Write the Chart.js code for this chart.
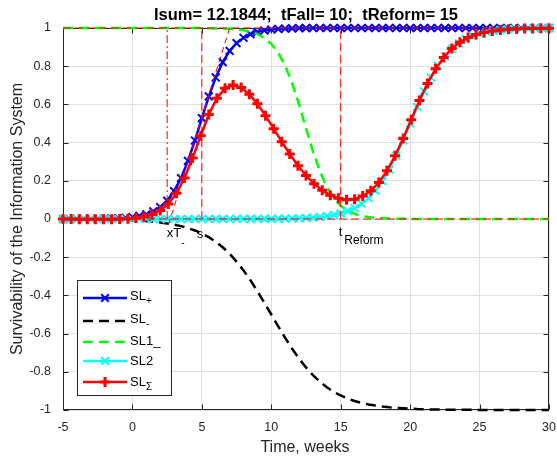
<!DOCTYPE html>
<html>
<head>
<meta charset="utf-8">
<script src="https://cdn.jsdelivr.net/npm/chart.js@4/dist/chart.umd.min.js"></script>
<style>
  html, body { margin: 0; padding: 0; background: #fff; }
  canvas { display: block; }
</style>
</head>
<body>
<canvas id="survChart" width="557" height="459"></canvas>
<script>
// time grid of the SL+, SL-, SL1_ and SL2 curves (weeks)
const weeks = [
  -5, -4.5, -4, -3.5, -3, -2.5, -2, -1.5, -1, -0.5,
  0, 0.5, 1, 1.5, 2, 2.5, 3, 3.5, 4, 4.5,
  5, 5.5, 6, 6.5, 7, 7.5, 8, 8.5, 9, 9.5,
  10, 10.5, 11, 11.5, 12, 12.5, 13, 13.5, 14, 14.5,
  15, 15.5, 16, 16.5, 17, 17.5, 18, 18.5, 19, 19.5,
  20, 20.5, 21, 21.5, 22, 22.5, 23, 23.5, 24, 24.5,
  25, 25.5, 26, 26.5, 27, 27.5, 28, 28.5, 29, 29.5,
  30
];
const slPlus = [
  0.0001, 0.0001, 0.0002, 0.0004, 0.0006, 0.001, 0.0016, 0.0025, 0.004, 0.0063,
  0.010, 0.016, 0.025, 0.040, 0.062, 0.096, 0.146, 0.214, 0.304, 0.411,
  0.528, 0.642, 0.741, 0.821, 0.880, 0.921, 0.949, 0.968, 0.980, 0.987,
  0.992, 0.995, 0.997, 0.998, 0.999, 0.999, 1, 1, 1, 1,
  1, 1, 1, 1, 1, 1, 1, 1, 1, 1,
  1, 1, 1, 1, 1, 1, 1, 1, 1, 1,
  1, 1, 1, 1, 1, 1, 1, 1, 1, 1,
  1
];
const slMinus = [
  -0.0006, -0.0007, -0.0009, -0.0012, -0.0015, -0.0019, -0.0025, -0.0032, -0.0041, -0.0052,
  -0.0067, -0.0086, -0.011, -0.0141, -0.018, -0.023, -0.0293, -0.0374, -0.0474, -0.060,
  -0.076, -0.095, -0.119, -0.148, -0.182, -0.223, -0.269, -0.321, -0.378, -0.438,
  -0.5, -0.562, -0.622, -0.679, -0.731, -0.777, -0.818, -0.852, -0.881, -0.905,
  -0.924, -0.940, -0.953, -0.963, -0.971, -0.977, -0.982, -0.986, -0.989, -0.991,
  -0.993, -0.995, -0.996, -0.997, -0.9975, -0.998, -0.9985, -0.9988, -0.9991, -0.9993,
  -0.9994, -0.9996, -0.9997, -0.9997, -0.9998, -0.9998, -0.9999, -0.9999, -0.9999, -0.9999,
  -1
];
const sl1 = [
  1, 1, 1, 1, 1, 1, 1, 1, 1, 1,
  1, 1, 1, 1, 1, 1, 1, 0.9999, 0.9998, 0.9996,
  0.9994, 0.999, 0.998, 0.997, 0.996, 0.993, 0.988, 0.980, 0.968, 0.948,
  0.917, 0.870, 0.802, 0.711, 0.599, 0.475, 0.354, 0.250, 0.168, 0.109,
  0.069, 0.043, 0.027, 0.016, 0.010, 0.006, 0.004, 0.002, 0.001, 0.001,
  0.0005, 0.0003, 0.0002, 0.0001, 0, 0, 0, 0, 0, 0,
  0, 0, 0, 0, 0, 0, 0, 0, 0, 0,
  0
];
const sl2 = [
  0, 0, 0, 0, 0, 0, 0, 0, 0, 0,
  0, 0, 0, 0, 0, 0, 0, 0, 0, 0,
  0, 0, 0.0001, 0.0001, 0.0001, 0.0002, 0.0002, 0.0003, 0.0005, 0.0006,
  0.0009, 0.0013, 0.0018, 0.0026, 0.0037, 0.0052, 0.0074, 0.0105, 0.0148, 0.0208,
  0.0293, 0.0411, 0.0573, 0.0794, 0.109, 0.148, 0.198, 0.259, 0.332, 0.413,
  0.5, 0.587, 0.668, 0.741, 0.802, 0.852, 0.891, 0.920, 0.943, 0.959,
  0.971, 0.979, 0.985, 0.990, 0.993, 0.995, 0.996, 0.997, 0.998, 0.999,
  0.999
];
// SL-sigma is sampled on its own grid
const weeksSum = [
  -5, -4.42, -3.83, -3.25, -2.67, -2.08, -1.5, -0.92, -0.33, 0.25,
  0.83, 1.42, 2, 2.58, 3.17, 3.75, 4.33, 4.92, 5.5, 6.08,
  6.67, 7.25, 7.83, 8.42, 9, 9.58, 10.17, 10.75, 11.33, 11.92,
  12.5, 13.08, 13.67, 14.25, 14.83, 15.42, 16, 16.58, 17.17, 17.75,
  18.33, 18.92, 19.5, 20.08, 20.67, 21.25, 21.83, 22.42, 23, 23.58,
  24.17, 24.75, 25.33, 25.92, 26.5, 27.08, 27.67, 28.25, 28.83, 29.42,
  30
];
const slSum = [
  -0.0005, -0.0006, -0.0007, -0.0008, -0.001, -0.001, -0.0007, 0.0001, 0.0017, 0.0051,
  0.0116, 0.0235, 0.0445, 0.079, 0.135, 0.215, 0.319, 0.436, 0.547, 0.632,
  0.684, 0.701, 0.688, 0.653, 0.603, 0.541, 0.473, 0.405, 0.340, 0.279,
  0.228, 0.185, 0.150, 0.125, 0.108, 0.101, 0.104, 0.120, 0.148, 0.191,
  0.252, 0.331, 0.422, 0.520, 0.620, 0.710, 0.786, 0.846, 0.893, 0.926,
  0.950, 0.966, 0.977, 0.984, 0.990, 0.993, 0.995, 0.997, 0.998, 0.999,
  0.999
];

// guide lines
const markT = [2.5, 5, 15];        // xT-, s, tReform
const levelY = [0, 1];
const tangentT = [2.6, 7.0];
const tangentV = [-0.03, 1.0];

const titleText = 'Isum= 12.1844;  tFall= 10;  tReform= 15';
const xTitle = 'Time, weeks';
const yTitle = 'Survivability of the Information System';
const legendRows = [
  { main: 'SL', sub: '+', color: '#0000ff', dash: [], mark: 'x' },
  { main: 'SL', sub: '-', color: '#000000', dash: [10, 6], mark: null },
  { main: 'SL1_', sub: '', color: '#00ff00', dash: [10, 6], mark: null },
  { main: 'SL2', sub: '', color: '#00ffff', dash: [], mark: 'x' },
  { main: 'SL', sub: '\u03A3', color: '#ff0000', dash: [], mark: '+' }
];

const FONT = '"Liberation Sans", Arial, sans-serif';
Chart.defaults.font.family = FONT;
Chart.defaults.color = '#262626';

function pts(xs, ys) {
  return xs.map((x, i) => ({ x: x, y: ys[i] }));
}

function guide(data, dash) {
  return {
    data: data, borderColor: '#ff0000', borderWidth: 1, borderDash: dash,
    pointRadius: 0, fill: false, order: 0, clip: false
  };
}

const guides = [
  guide([{ x: -5, y: levelY[0] }, { x: 30, y: levelY[0] }], [8, 4]),
  guide([{ x: -5, y: levelY[1] }, { x: 30, y: levelY[1] }], [8, 4]),
  guide([{ x: markT[0], y: levelY[0] }, { x: markT[0], y: levelY[1] }], [8, 3, 2, 3]),
  guide([{ x: markT[1], y: levelY[0] }, { x: markT[1], y: levelY[1] }], [8, 4]),
  guide([{ x: markT[2], y: levelY[0] }, { x: markT[2], y: levelY[1] }], [8, 4]),
  guide(pts(tangentT, tangentV), [6, 4])
];

function drawMark(ctx, kind, x, y, color) {
  ctx.save();
  ctx.strokeStyle = color;
  ctx.beginPath();
  if (kind === 'x') {
    ctx.lineWidth = 2;
    ctx.moveTo(x - 3.8, y - 3.8); ctx.lineTo(x + 3.8, y + 3.8);
    ctx.moveTo(x - 3.8, y + 3.8); ctx.lineTo(x + 3.8, y - 3.8);
  } else {
    ctx.lineWidth = 3;
    ctx.moveTo(x - 5, y); ctx.lineTo(x + 5, y);
    ctx.moveTo(x, y - 5); ctx.lineTo(x, y + 5);
  }
  ctx.stroke();
  ctx.restore();
}

const decor = {
  id: 'decor',
  beforeDatasetsDraw(chart) {
    const { ctx, chartArea: a, scales } = chart;
    const l = Math.round(a.left) + 0.5, r = Math.round(a.right) - 0.5;
    const t = Math.round(a.top) + 0.5, b = Math.round(a.bottom) - 0.5;
    ctx.save();
    ctx.strokeStyle = '#262626';
    ctx.lineWidth = 1;
    ctx.strokeRect(l, t, r - l, b - t);
    ctx.beginPath();
    scales.x.ticks.forEach(tk => {
      const p = Math.round(scales.x.getPixelForValue(tk.value)) + 0.5;
      ctx.moveTo(p, b); ctx.lineTo(p, b - 5);
      ctx.moveTo(p, t); ctx.lineTo(p, t + 5);
    });
    scales.y.ticks.forEach(tk => {
      const p = Math.round(scales.y.getPixelForValue(tk.value)) + 0.5;
      ctx.moveTo(l, p); ctx.lineTo(l + 5, p);
      ctx.moveTo(r, p); ctx.lineTo(r - 5, p);
    });
    ctx.stroke();
    ctx.restore();
  },
  afterDraw(chart) {
    const { ctx, chartArea: a, scales } = chart;
    const px = v => scales.x.getPixelForValue(v);
    const y0 = scales.y.getPixelForValue(0);
    ctx.save();

    // title
    ctx.fillStyle = '#000';
    ctx.font = 'bold 16.5px ' + FONT;
    ctx.textAlign = 'center';
    ctx.textBaseline = 'alphabetic';
    ctx.fillText(titleText, (a.left + a.right) / 2, 19.5);

    // axis titles
    ctx.fillStyle = '#262626';
    ctx.font = '16px ' + FONT;
    ctx.fillText(xTitle, 305, 452);
    ctx.save();
    ctx.translate(21.5, (a.top + a.bottom) / 2);
    ctx.rotate(-Math.PI / 2);
    ctx.fillText(yTitle, 0, 0);
    ctx.restore();

    // point labels
    ctx.fillStyle = '#000';
    ctx.textAlign = 'left';
    ctx.font = '13px ' + FONT;
    ctx.fillText('xT', px(markT[0]) - 0.5, y0 + 18);
    ctx.fillText('s', px(markT[1]) - 5, y0 + 19);
    ctx.fillText('t', px(markT[2]) - 2, y0 + 17);
    ctx.font = '10px ' + FONT;
    ctx.fillText('-', px(markT[0]) + 14, y0 + 27);
    ctx.font = '12px ' + FONT;
    ctx.fillText('Reform', px(markT[2]) + 3.5, y0 + 24.5);

    // legend
    const lx = 77.5, ly = 280.5, lw = 94, lh = 115;
    ctx.fillStyle = '#fff';
    ctx.fillRect(lx, ly, lw, lh);
    ctx.strokeStyle = '#262626';
    ctx.lineWidth = 1;
    ctx.strokeRect(lx, ly, lw, lh);
    const lineY = [298, 321, 342, 361, 382];
    const baseY = [300, 323, 345, 365, 386];
    legendRows.forEach((row, i) => {
      ctx.save();
      ctx.strokeStyle = row.color;
      ctx.lineWidth = 2.5;
      ctx.setLineDash(row.dash);
      ctx.beginPath();
      ctx.moveTo(83, lineY[i]);
      ctx.lineTo(127, lineY[i]);
      ctx.stroke();
      ctx.restore();
      if (row.mark) drawMark(ctx, row.mark, 105, lineY[i], row.color);
      ctx.fillStyle = '#000';
      ctx.font = '13px ' + FONT;
      ctx.fillText(row.main, 130, baseY[i]);
      if (row.sub) {
        const w = ctx.measureText(row.main).width;
        ctx.font = '10px ' + FONT;
        ctx.fillText(row.sub, 130 + w, baseY[i] + 4);
      }
    });
    ctx.restore();
  }
};

new Chart(document.getElementById('survChart'), {
  type: 'line',
  data: {
    datasets: guides.concat([
      {
        label: 'SL\u03A3', data: pts(weeksSum, slSum), order: 1,
        borderColor: '#ff0000', borderWidth: 2.5,
        pointStyle: 'cross', pointRadius: 5, pointBorderWidth: 3,
        pointBorderColor: '#ff0000', pointBackgroundColor: '#ff0000', clip: false
      },
      {
        label: 'SL2', data: pts(weeks, sl2), order: 2,
        borderColor: '#00ffff', borderWidth: 2,
        pointStyle: 'crossRot', pointRadius: 5.5, pointBorderWidth: 2,
        pointBorderColor: '#00ffff', pointBackgroundColor: '#00ffff', clip: false
      },
      {
        label: 'SL1_', data: pts(weeks, sl1), order: 3,
        borderColor: '#00ff00', borderWidth: 2.5, borderDash: [10, 6],
        pointRadius: 0, clip: false
      },
      {
        label: 'SL-', data: pts(weeks, slMinus), order: 4,
        borderColor: '#000000', borderWidth: 2.5, borderDash: [10, 6],
        pointRadius: 0, clip: false
      },
      {
        label: 'SL+', data: pts(weeks, slPlus), order: 5,
        borderColor: '#0000ff', borderWidth: 2.5,
        pointStyle: 'crossRot', pointRadius: 5.5, pointBorderWidth: 2,
        pointBorderColor: '#0000ff', pointBackgroundColor: '#0000ff', clip: false
      }
    ])
  },
  options: {
    responsive: false,
    animation: false,
    layout: { padding: { top: 28, right: 6, left: 0, bottom: 0 } },
    plugins: { legend: { display: false }, tooltip: { enabled: false } },
    elements: { line: { tension: 0 } },
    scales: {
      x: {
        type: 'linear', min: -5, max: 30,
        ticks: { stepSize: 5, padding: 10, color: '#262626', font: { size: 12.5 } },
        grid: { color: '#dfdfdf', drawTicks: false },
        border: { display: false },
        afterFit: s => { s.height = 49; s.paddingLeft = 0; s.paddingRight = 6; }
      },
      y: {
        type: 'linear', min: -1, max: 1,
        ticks: {
          stepSize: 0.2, padding: 12, color: '#262626', font: { size: 12.5 },
          callback: v => String(Number(v.toFixed(1)))
        },
        grid: { color: '#dfdfdf', drawTicks: false },
        border: { display: false },
        afterFit: s => { s.width = 63; s.paddingTop = 0; s.paddingBottom = 0; }
      }
    }
  },
  plugins: [decor]
});
</script>
</body>
</html>
